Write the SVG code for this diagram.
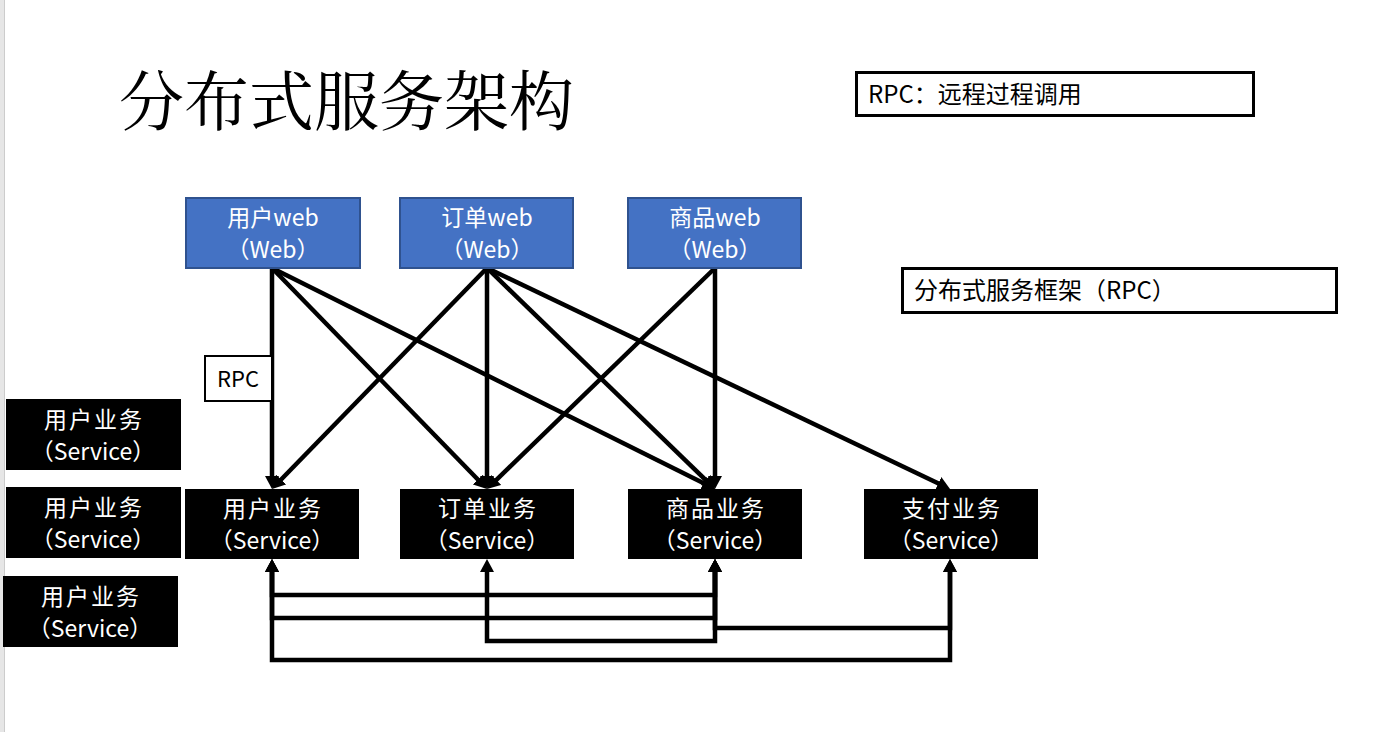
<svg xmlns="http://www.w3.org/2000/svg" width="1380" height="732" viewBox="0 0 1380 732">
<style>
.t{font-family:'Noto Sans CJK SC','Noto Sans',sans-serif;}
.title{font-family:'Noto Serif CJK SC','Noto Sans CJK SC',serif;font-size:65px;fill:#000;}
.web{fill:#4472C4;stroke:#2F528F;stroke-width:2;}
.svc{fill:#000;}
.wt{fill:#fff;font-size:23px;text-anchor:middle;}
.st{fill:#fff;font-size:23px;text-anchor:middle;}
.cj{letter-spacing:2px;}
.note{fill:#fff;stroke:#000;stroke-width:3;}
.nt{fill:#000;font-size:24px;}
.c{fill:none;stroke:#000;stroke-width:4.5;marker-end:url(#arr);}
.b{fill:none;stroke:#000;stroke-width:4.5;marker-start:url(#arr);marker-end:url(#arr);}
</style>
<defs>
<marker id="arr" viewBox="0 0 13 14" refX="2" refY="7" markerWidth="13" markerHeight="14" markerUnits="userSpaceOnUse" orient="auto-start-reverse">
<path d="M0,0 L13,7 L0,14 z" fill="#000"/>
</marker>
</defs>
<rect x="0" y="0" width="1380" height="732" fill="#fff"/>
<rect x="0" y="0" width="4" height="732" fill="#e6e6e6"/>
<line x1="4.5" y1="0" x2="4.5" y2="732" stroke="#cccccc" stroke-width="1"/>

<g id="title"><text class="title" x="119" y="125">分布式服务架构</text></g>

<g id="connectors">
<path class="c" d="M272,268 L272,478"/>
<path class="c" d="M272,268 L479.3,481"/>
<path class="c" d="M272,268 L705.2,484.1"/>
<path class="c" d="M487,268 L279.7,481"/>
<path class="c" d="M487,268 L487,478"/>
<path class="c" d="M487,268 L707.1,481.3"/>
<path class="c" d="M487,268 L940.1,484.3"/>
<path class="c" d="M715,268 L494.9,481.3"/>
<path class="c" d="M715,268 L715,478"/>
<path class="b" d="M272,570 V660 H950 V570"/>
<path class="b" d="M487,570 V641 H715 V570"/>
<path class="b" d="M272,570 V595 H715 V570"/>
<path class="b" d="M272,570 V618 H715 V570"/>
<path class="b" d="M715,570 V628 H950 V570"/>
</g>

<g id="note-rpc"><rect class="note" x="856.5" y="72.5" width="397" height="43"/><text class="t nt" x="868" y="103">RPC：远程过程调用</text></g>
<g id="note-framework"><rect class="note" x="902.5" y="268.5" width="434" height="44"/><text class="t nt" x="914" y="299">分布式服务框架（RPC）</text></g>

<g id="rpc-label"><rect x="205" y="356" width="67" height="45" fill="#fff" stroke="#000" stroke-width="2"/><text class="t" x="238" y="387" font-size="22" text-anchor="middle" fill="#000">RPC</text></g>

<g id="web-user"><rect class="web" x="186" y="198" width="174" height="70"/><text class="t wt" x="273" y="226">用户web</text><text class="t wt" x="273" y="258">（Web）</text></g>
<g id="web-order"><rect class="web" x="400" y="198" width="173" height="70"/><text class="t wt" x="487" y="226">订单web</text><text class="t wt" x="487" y="258">（Web）</text></g>
<g id="web-goods"><rect class="web" x="628" y="198" width="173" height="70"/><text class="t wt" x="715" y="226">商品web</text><text class="t wt" x="715" y="258">（Web）</text></g>

<g id="svc-user"><rect class="svc" x="185" y="489" width="174" height="70"/><text class="t st cj" x="273" y="517">用户业务</text><text class="t st" x="272" y="549">（Service）</text></g>
<g id="svc-order"><rect class="svc" x="400" y="489" width="174" height="70"/><text class="t st cj" x="488" y="517">订单业务</text><text class="t st" x="487" y="549">（Service）</text></g>
<g id="svc-goods"><rect class="svc" x="628" y="489" width="174" height="70"/><text class="t st cj" x="716" y="517">商品业务</text><text class="t st" x="715" y="549">（Service）</text></g>
<g id="svc-pay"><rect class="svc" x="864" y="489" width="174" height="70"/><text class="t st cj" x="952" y="517">支付业务</text><text class="t st" x="951" y="549">（Service）</text></g>

<g id="side-user-1"><rect class="svc" x="6" y="399" width="175" height="71"/><text class="t st cj" x="94" y="428">用户业务</text><text class="t st" x="93" y="460">（Service）</text></g>
<g id="side-user-2"><rect class="svc" x="6" y="487" width="175" height="71"/><text class="t st cj" x="94" y="516">用户业务</text><text class="t st" x="93" y="548">（Service）</text></g>
<g id="side-user-3"><rect class="svc" x="3" y="576" width="175" height="71"/><text class="t st cj" x="91" y="605">用户业务</text><text class="t st" x="90" y="637">（Service）</text></g>
</svg>
